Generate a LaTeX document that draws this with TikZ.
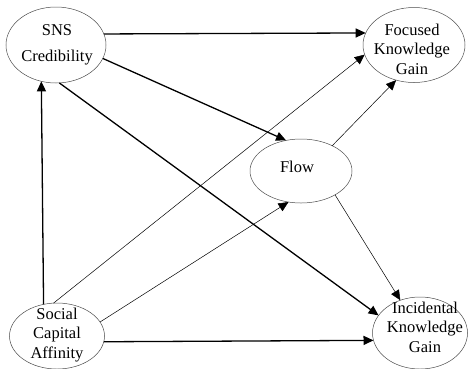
\documentclass[tikz,border=0pt]{standalone}
\usepackage{fontspec}
\setmainfont{Liberation Serif}
\usetikzlibrary{shapes.geometric,arrows.meta}
\begin{document}
\begin{tikzpicture}[x=1pt,y=-1pt,
  ell/.style={draw=black!70,line width=0.5pt,ellipse,inner sep=0pt,outer sep=0pt},
  txt/.style={align=center,inner sep=0pt,font=\fontsize{16.5}{19.5}\selectfont,anchor=base},
  thickarr/.style={line width=1.3pt,-{Triangle[length=10pt,width=9pt]}},
  thinarr/.style={line width=0.5pt,-{Triangle[length=10pt,width=9pt]}}]
\useasboundingbox (0,0) rectangle (468,368);
\begin{scope}
\clip (0,0) rectangle (468,368);
\node[ell,minimum width=100pt,minimum height=76pt] (sns) at (56,45) {};
\node[ell,minimum width=102pt,minimum height=75pt] (foc) at (414,45) {};
\node[ell,minimum width=102pt,minimum height=64pt] (flow) at (301,171) {};
\node[ell,minimum width=95pt,minimum height=66pt] (soc) at (57,336) {};
\node[ell,minimum width=95pt,minimum height=72pt] (inc) at (420,333) {};
\end{scope}
\node[txt] (snsT) at (57,61) {SNS\\[6pt]Credibility};
\node[txt] (focT) at (412,74) {Focused\\Knowledge\\Gain};
\node[txt] (flowT) at (297,172) {Flow};
\node[txt] (socT) at (57,358) {Social\\Capital\\Affinity};
\node[txt] (incT) at (425,352) {Incidental\\Knowledge\\Gain};
% arrows
\draw[thickarr] (sns.13) -- (foc.166);
\draw[thickarr] (sns.-16) -- (flow.116);
\draw[thickarr] (sns.-85) -- (inc.157);
\draw[thickarr] (soc.113) -- (sns.248);
\draw[thickarr] (soc.-7) -- (inc.189);
\draw[thinarr] (soc.96) -- (foc.191);
\draw[thinarr] (soc.18) -- (flow.248);
\draw[thinarr] (flow.39) -- (foc.243);
\draw[thinarr] (flow.-35) -- (inc.121);
\end{tikzpicture}
\end{document}
